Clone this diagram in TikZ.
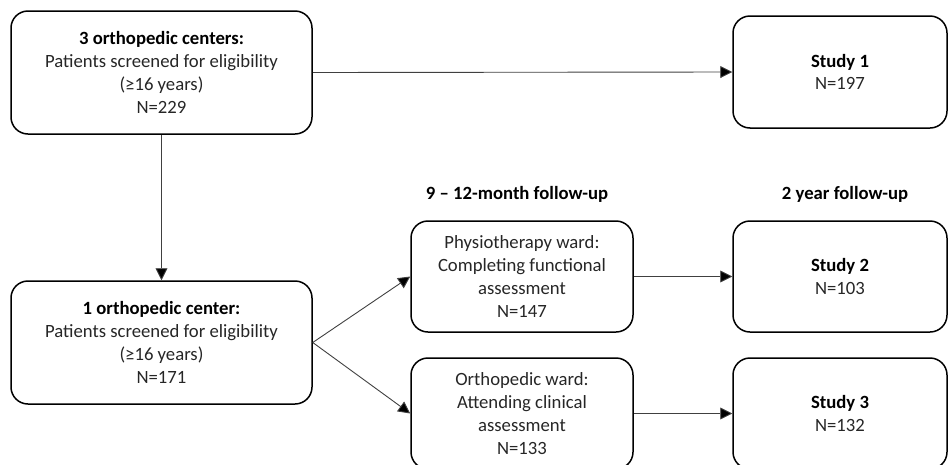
\documentclass[tikz,border=0pt]{standalone}
\usepackage{fontspec}
\setmainfont{Carlito}
\usetikzlibrary{arrows.meta}
\tikzset{
  box/.style={draw=black, line width=1.5pt, rounded corners=17pt, align=center,
    inner sep=0pt, text=black!85, font=\fontsize{18.7}{22.8}\selectfont},
  bigbox/.style={box, minimum width=301pt, minimum height=123pt},
  midbox/.style={box, minimum width=222pt, minimum height=111pt},
  studybox/.style={box, minimum width=214pt, minimum height=111pt},
  conn/.style={draw=black!75, line width=0.9pt, -{Triangle[length=12pt,width=12pt,fill=black]}},
  header/.style={font=\fontsize{18.7}{22.8}\selectfont\bfseries, text=black, inner sep=0pt}
}
\begin{document}
\begin{tikzpicture}[x=1pt,y=-1pt]
\useasboundingbox (0,0) rectangle (948,464);
\clip (0,0) rectangle (948,464);
\node[bigbox] (a) at (161.5,72.5) {\textbf{\color{black}3 orthopedic centers:}\\Patients screened for eligibility\\(≥16 years)\\N=229};
\node[bigbox] (b) at (161.5,342.5) {\textbf{\color{black}1 orthopedic center:}\\Patients screened for eligibility\\(≥16 years)\\N=171};
\node[box, minimum width=214pt, minimum height=112pt] (s1) at (840,72) {\textbf{\color{black}Study 1}\\N=197};
\node[midbox] (p) at (522,276.5) {Physiotherapy ward:\\Completing functional\\assessment\\N=147};
\node[studybox] (s2) at (840,276.5) {\textbf{\color{black}Study 2}\\N=103};
\node[midbox] (o) at (522,413.5) {Orthopedic ward:\\Attending clinical\\assessment\\N=133};
\node[studybox] (s3) at (840,413.5) {\textbf{\color{black}Study 3}\\N=132};
\node[header] (h1) at (517,194) {9 – 12-month follow-up};
\node[header] (h2) at (845,194) {2 year follow-up};
\draw[conn] (a.east) -- (s1.west);
\draw[conn] (a.south) -- (b.north);
\draw[conn] (b.east) -- (p.west);
\draw[conn] (b.east) -- (o.west);
\draw[conn] (p.east) -- (s2.west);
\draw[conn] (o.east) -- (s3.west);
\end{tikzpicture}
\end{document}
